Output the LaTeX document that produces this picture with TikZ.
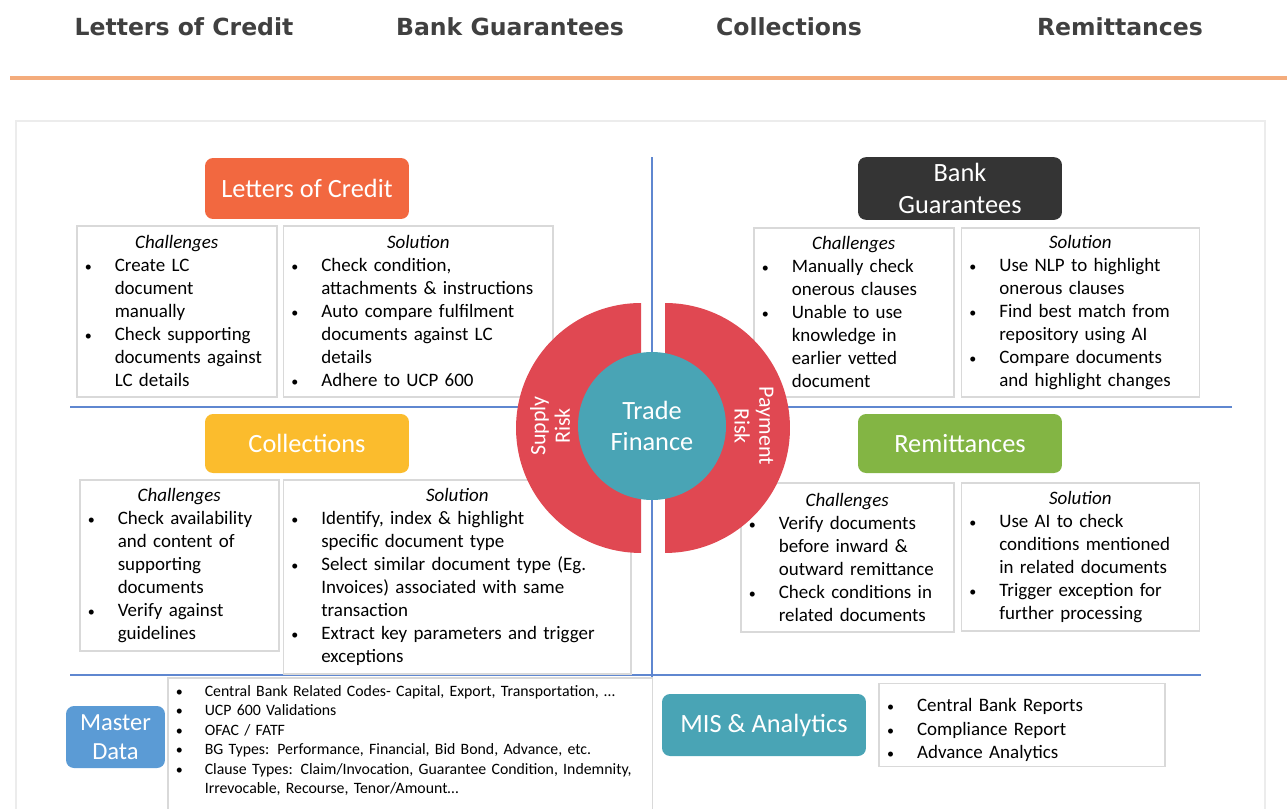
\documentclass[tikz,border=0pt]{standalone}
\usepackage{fontspec}
\setmainfont{Carlito}
\newfontfamily\headfont{DejaVu Sans}
\usepackage{enumitem}
\setlist[itemize]{label={\footnotesize\textbullet}, leftmargin=0.6cm, labelwidth=0.6cm, labelsep=0pt, align=left, nosep}
\usepackage{tikz}
\usetikzlibrary{positioning}

\definecolor{lcorange}{RGB}{242,104,64}
\definecolor{bgdark}{RGB}{52,52,52}
\definecolor{colamber}{RGB}{251,188,45}
\definecolor{remgreen}{RGB}{131,181,68}
\definecolor{mdblue}{RGB}{91,155,213}
\definecolor{tfteal}{RGB}{73,164,181}
\definecolor{riskred}{RGB}{224,72,82}
\definecolor{sepblue}{RGB}{95,135,208}
\definecolor{panelgray}{RGB}{217,217,217}
\definecolor{framegray}{RGB}{236,236,236}
\definecolor{headgray}{RGB}{64,64,64}
\definecolor{rulepeach}{RGB}{244,172,124}

\newcommand{\bodysize}{\fontsize{10.8}{13.1}\selectfont}
\newcommand{\colhead}[1]{{\centering\itshape #1\par}}

\begin{document}
\begin{tikzpicture}[
      x=0.02cm, y=-0.02cm,
      head/.style={font=\headfont\bfseries\fontsize{13.4}{16}\selectfont, text=headgray, anchor=base},
      tabbox/.style={rounded corners=0.16cm, minimum width=4.08cm, minimum height=1.22cm, text=white, align=center, font=\fontsize{15}{18.5}\selectfont},
      panel/.style={draw=panelgray, line width=0.9pt, fill=white, anchor=north west, inner xsep=0.16cm, inner ysep=0.1cm, align=left, font=\bodysize},
      sep/.style={draw=sepblue, line width=0.7pt},
      risk/.style={text=white, align=center, font=\fontsize{12.5}{14}\selectfont}
    ]
    \useasboundingbox (0,0) rectangle (1287,808);

    % tab strip
    \node[head] (hlc) at (184,35) {Letters of Credit};
    \node[head] (hbg) at (510,35) {Bank Guarantees};
    \node[head] (hcol) at (789,35) {Collections};
    \node[head] (hrem) at (1120,35) {Remittances};
    \draw[rulepeach, line width=0.08cm] (10,78) -- (1287,78);

    % slide frame and quadrant lines
    \draw[framegray, line width=0.6pt] (16,121) rectangle (1265,840);
    \draw[sep] (652,157) -- (652,785);
    \draw[sep] (70,407) -- (1232,407);
    \draw[sep] (70,675) -- (1201,675);

    % letters of credit
    \node[tabbox, fill=lcorange] (lc) at (307,188.5) {Letters of Credit};
    \node[panel, text width=3.68cm, minimum height=3.42cm] (lcchal) at (76,225) {\colhead{Challenges}
      \begin{itemize}
        \item Create LC\\document\\manually
        \item Check supporting\\documents against\\LC details
      \end{itemize}};
    \node[panel, text width=5.08cm, minimum height=3.42cm, right=0.1cm of lcchal.north east, anchor=north west] (lcsol) {\colhead{Solution}
      \begin{itemize}
        \item Check condition,\\attachments \& instructions
        \item Auto compare fulfilment\\documents against LC\\details
        \item Adhere to UCP 600
      \end{itemize}};

    % bank guarantees
    \node[tabbox, fill=bgdark] (bg) at (960,188.5) {Bank\\Guarantees};
    \node[panel, text width=3.68cm, minimum height=3.38cm] (bgchal) at (753,227) {\colhead{Challenges}
      \begin{itemize}
        \item Manually check\\onerous clauses
        \item Unable to use\\knowledge in\\earlier vetted\\document
      \end{itemize}};
    \node[panel, text width=4.44cm, minimum height=3.38cm, right=0.12cm of bgchal.north east, anchor=north west] (bgsol) {\colhead{Solution}
      \begin{itemize}
        \item Use NLP to highlight\\onerous clauses
        \item Find best match from\\repository using AI
        \item Compare documents\\and highlight changes
      \end{itemize}};

    % collections
    \node[tabbox, fill=colamber, minimum height=1.18cm] (col) at (307,443.5) {Collections};
    \node[panel, text width=3.66cm, minimum height=3.42cm] (colchal) at (79,479) {\colhead{Challenges}
      \begin{itemize}
        \item Check availability\\and content of\\supporting\\documents
        \item Verify against\\guidelines
      \end{itemize}};
    \node[panel, text width=6.64cm, minimum height=3.88cm, right=0.06cm of colchal.north east, anchor=north west] (colsol) {\colhead{Solution}
      \begin{itemize}
        \item Identify, index \& highlight\\specific document type
        \item Select similar document type (Eg.\\Invoices) associated with same\\transaction
        \item Extract key parameters and trigger\\exceptions
      \end{itemize}};

    % remittances
    \node[tabbox, fill=remgreen, minimum height=1.18cm] (rem) at (960,443.5) {Remittances};
    \node[panel, text width=3.94cm, minimum height=2.98cm] (remchal) at (740,482) {\colhead{Challenges}
      \begin{itemize}
        \item Verify documents\\before inward \&\\outward remittance
        \item Check conditions in\\related documents
      \end{itemize}};
    \node[panel, text width=4.44cm, minimum height=2.96cm, right=0.12cm of remchal.north east, anchor=north west] (remsol) {\colhead{Solution}
      \begin{itemize}
        \item Use AI to check\\conditions mentioned\\in related documents
        \item Trigger exception for\\further processing
      \end{itemize}};

    % trade finance hub with the two risk halves
    \fill[riskred] (641,303) arc[start angle=90, end angle=270, radius=2.5cm] -- cycle;
    \fill[riskred] (665,303) arc[start angle=90, end angle=-90, radius=2.5cm] -- cycle;
    \node[risk, rotate=90] (supply) at (550,426) {Supply\\Risk};
    \node[risk, rotate=-90] (payment) at (754,426) {Payment\\Risk};
    \node[circle, fill=tfteal, minimum size=2.96cm, text=white, align=center, font=\fontsize{15}{18}\selectfont] (tf) at (652,426) {Trade\\Finance};

    % master data
    \node[tabbox, fill=mdblue, minimum width=1.98cm, minimum height=1.24cm, font=\fontsize{14}{16.5}\selectfont] (md) at (115.5,737) {Master\\Data};
    \node[panel, text width=9.38cm, inner xsep=0.16cm, inner ysep=0.04cm, font=\fontsize{9}{11.1}\selectfont] (mdlist) at (167,677) {%
      \vspace*{-0.06cm}
      \begin{itemize}[leftmargin=0.58cm, labelwidth=0.58cm]
        \item Central Bank Related Codes- Capital, Export, Transportation, \ldots
        \item UCP 600 Validations
        \item OFAC / FATF
        \item BG Types: Performance, Financial, Bid Bond, Advance, etc.
        \item Clause Types: Claim/Invocation, Guarantee Condition, Indemnity,\\Irrevocable, Recourse, Tenor/Amount\ldots
      \end{itemize}\par\rule{0pt}{0.4cm}};

    % mis and analytics
    \node[tabbox, fill=tfteal, minimum height=1.24cm] (mis) at (764,725) {MIS \& Analytics};
    \node[panel, text width=5.4cm, minimum height=1.6cm, font=\fontsize{10.8}{13.3}\selectfont, right=0.24cm of mis, anchor=west] (mislist) {%
      \begin{itemize}
        \item Central Bank Reports
        \item Compliance Report
        \item Advance Analytics
      \end{itemize}};
  \end{tikzpicture}
\end{document}
